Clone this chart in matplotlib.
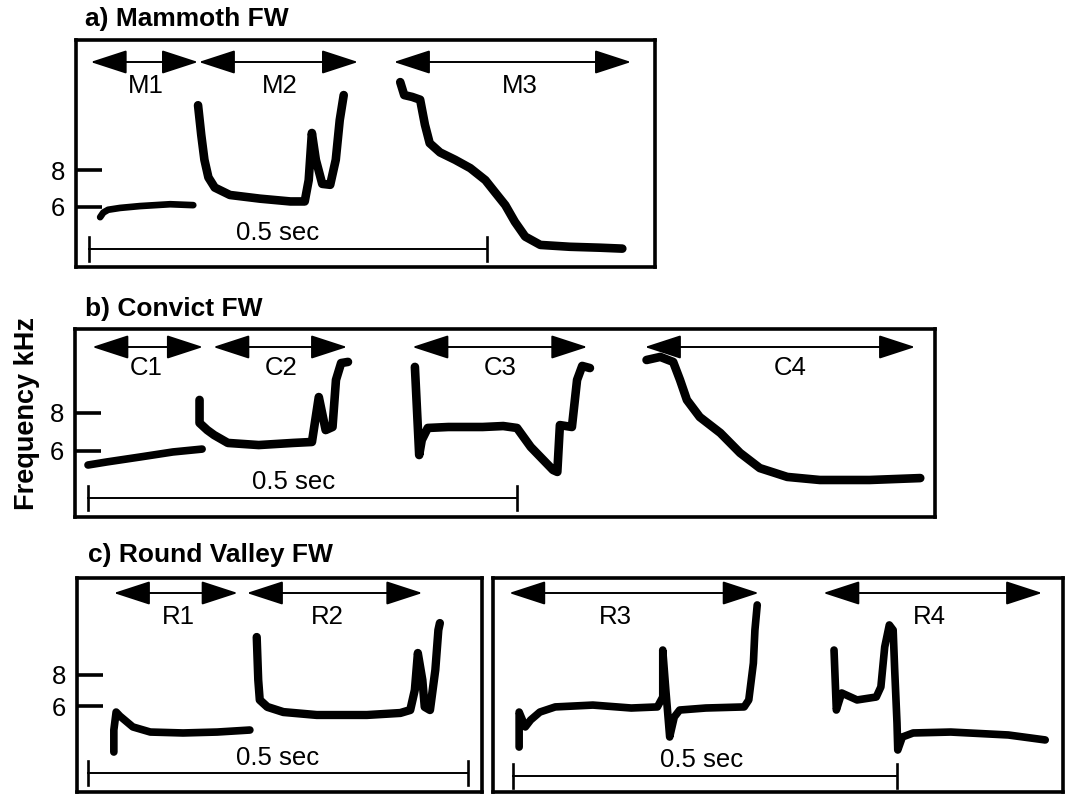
import matplotlib
matplotlib.use("Agg")
import matplotlib.pyplot as plt
from matplotlib.patches import FancyArrowPatch

plt.rcParams['font.family'] = ['Liberation Sans', 'DejaVu Sans']

W, H = 1071, 796

# ---------------- data (time in ms, frequency in kHz) ----------------
# a) Mammoth FW
M1_t = [14, 18, 24, 39, 64, 102, 131]
M1_f = [5.45, 5.7, 5.85, 5.95, 6.05, 6.15, 6.1]
M2_t = [137, 141, 145, 150, 158, 177, 215, 253, 271, 276, 280, 285, 293, 303, 310, 315, 320]
M2_f = [11.5, 9.9, 8.55, 7.6, 7.05, 6.65, 6.45, 6.3, 6.3, 7.45, 10.0, 8.55, 7.25, 7.2, 8.55, 10.7, 12.05]
M3_t = [391, 396, 406, 416, 422, 428, 441, 460, 479, 498, 510, 523, 535, 548, 567, 604, 642, 670]
M3_f = [12.75, 12.05, 11.95, 11.8, 10.45, 9.45, 8.95, 8.55, 8.1, 7.45, 6.8, 6.1, 5.2, 4.4, 3.95, 3.85, 3.8, 3.75]
M_seg = [(2, 137), (138, 338), (383, 681)]
M_names = ["M1", "M2", "M3"]

# b) Convict FW
C1_t = [0, 22, 61, 99, 133]
C1_f = [5.27, 5.43, 5.69, 5.95, 6.1]
C2_t = [130, 130, 139, 147, 163, 199, 239, 261, 269, 277, 285, 289, 295, 303]
C2_f = [8.66, 7.46, 7.09, 6.83, 6.42, 6.31, 6.42, 6.47, 8.81, 7.09, 7.25, 9.7, 10.58, 10.64]
C3_t = [381, 386, 389, 396, 420, 460, 484, 500, 516, 542, 547, 550, 564, 570, 576, 585]
C3_f = [10.38, 5.79, 6.57, 7.2, 7.25, 7.25, 7.3, 7.2, 6.21, 5.01, 4.91, 7.35, 7.25, 9.7, 10.43, 10.32]
C4_t = [651, 667, 682, 690, 698, 713, 737, 760, 783, 815, 853, 911, 970]
C4_f = [10.74, 10.9, 10.64, 9.7, 8.66, 7.77, 6.94, 5.9, 5.11, 4.65, 4.49, 4.49, 4.59]
C_seg = [(5, 134), (146, 302), (378, 582), (649, 964)]
C_names = ["C1", "C2", "C3", "C4"]

# c) Round Valley FW
R1_t = [34, 34, 37, 42, 59, 82, 125, 170, 213]
R1_f = [3.03, 4.45, 5.61, 5.35, 4.65, 4.32, 4.26, 4.32, 4.45]
R2_t = [222, 224, 226, 236, 257, 301, 367, 411, 424, 430, 434, 440, 443, 450, 457, 461, 463]
R2_f = [10.45, 7.68, 6.39, 5.94, 5.61, 5.42, 5.42, 5.55, 5.74, 7.03, 9.42, 7.68, 5.94, 5.74, 8.32, 10.9, 11.35]
R3_t = [8, 8, 16, 23, 35, 55, 104, 154, 188, 195, 195, 199, 204, 210, 217, 251, 301, 307, 313, 315, 318]
R3_f = [3.35, 5.61, 4.65, 5.1, 5.61, 5.94, 6.06, 5.87, 5.94, 6.58, 9.61, 7.03, 4.0, 5.29, 5.74, 5.87, 5.94, 6.39, 8.77, 10.9, 12.52]
R4_t = [418, 421, 428, 448, 473, 479, 484, 490, 495, 497, 500, 501, 507, 521, 570, 645, 693]
R4_f = [9.61, 5.74, 6.84, 6.39, 6.58, 7.23, 9.81, 11.23, 10.9, 8.32, 4.9, 3.16, 4.0, 4.26, 4.32, 4.13, 3.81]
RL_seg = [(34, 197), (209, 440)]
RL_names = ["R1", "R2"]
RR_seg = [(-5, 320), (404, 689)]
RR_names = ["R3", "R4"]

tick_vals = [6, 8]
tick_labels = ["6", "8"]
bar_len = 500
bar_text = "0.5 sec"

titles = ["a) Mammoth FW", "b) Convict FW", "c) Round Valley FW"]
ylabel = "Frequency kHz"

# ---------------- layout (pixels) ----------------
panels = [
    dict(box=(76, 40, 655, 267), x0=89, ppm=0.796, y6=207, ppk=18.5, ticks=True,
         traces=[(M1_t, M1_f, 4.8), (M2_t, M2_f, 6.2), (M3_t, M3_f, 6.2)],
         segs=M_seg, names=M_names, label_x=[146, 280, 520],
         arrow_y=62, label_y=86, bar_y=249, text_xy=(278, 233)),
    dict(box=(75, 329, 935, 517), x0=88, ppm=0.858, y6=451, ppk=19.2, ticks=True,
         traces=[(C1_t, C1_f, 5.5), (C2_t, C2_f, 6.2), (C3_t, C3_f, 6.2), (C4_t, C4_f, 6.2)],
         segs=C_seg, names=C_names, label_x=[146, 281, 500, 790],
         arrow_y=347, label_y=368, bar_y=498, text_xy=(294, 482)),
    dict(box=(77, 578, 482, 792), x0=88, ppm=0.760, y6=706, ppk=15.5, ticks=True,
         traces=[(R1_t, R1_f, 5.5), (R2_t, R2_f, 6.0)],
         segs=RL_seg, names=RL_names, label_x=[178, 327],
         arrow_y=593, label_y=617, bar_y=773, text_xy=(278, 758)),
    dict(box=(493, 578, 1063, 792), x0=513, ppm=0.768, y6=706, ppk=15.5, ticks=False,
         traces=[(R3_t, R3_f, 5.5), (R4_t, R4_f, 5.5)],
         segs=RR_seg, names=RR_names, label_x=[615, 929],
         arrow_y=593, label_y=617, bar_y=776, text_xy=(702, 760)),
]

fig = plt.figure(figsize=(W / 100, H / 100), dpi=100)
fig.patch.set_facecolor("white")

for p in panels:
    bx0, by0, bx1, by1 = p["box"]
    ax = fig.add_axes([bx0 / W, 1 - by1 / H, (bx1 - bx0) / W, (by1 - by0) / H])
    tx = lambda px, p=p: (px - p["x0"]) / p["ppm"]
    fy = lambda py, p=p: 6 + (p["y6"] - py) / p["ppk"]
    ax.set_xlim(tx(bx0), tx(bx1))
    ax.set_ylim(fy(by1), fy(by0))
    for s in ax.spines.values():
        s.set_linewidth(2.6)
        s.set_color("black")
    ax.set_xticks([])
    if p["ticks"]:
        ax.set_yticks(tick_vals)
        ax.set_yticklabels(tick_labels)
        ax.tick_params(axis="y", direction="in", length=19, width=2.6,
                       pad=8, labelsize=18.5)
    else:
        ax.set_yticks([])

    for t, f, lw in p["traces"]:
        ax.plot(t, f, color="black", lw=lw, solid_capstyle="round",
                solid_joinstyle="round", zorder=3)

    ya = fy(p["arrow_y"])
    for (s, e), name, lx in zip(p["segs"], p["names"], p["label_x"]):
        arr = FancyArrowPatch((s, ya), (e, ya),
                              arrowstyle="<|-|>,head_length=23,head_width=7.5",
                              mutation_scale=1, lw=1.4, color="black",
                              shrinkA=0, shrinkB=0)
        ax.add_patch(arr)
        ax.text(tx(lx), fy(p["label_y"]), name, ha="center", va="center",
                fontsize=18.5)

    yb = fy(p["bar_y"])
    ax.plot([0, bar_len], [yb, yb], color="black", lw=1.4)
    for xe in (0, bar_len):
        ax.plot([xe, xe], [fy(p["bar_y"] - 12), fy(p["bar_y"] + 12)],
                color="black", lw=1.9)
    ax.text(tx(p["text_xy"][0]), fy(p["text_xy"][1]), bar_text,
            ha="center", va="center", fontsize=18.5)

fig.text(85 / W, 1 - 26 / H, titles[0], fontsize=19, fontweight="bold", va="baseline")
fig.text(85 / W, 1 - 316 / H, titles[1], fontsize=19, fontweight="bold", va="baseline")
fig.text(88 / W, 1 - 562 / H, titles[2], fontsize=19, fontweight="bold", va="baseline")
fig.text(27 / W, 1 - 414 / H, ylabel, fontsize=19.5, fontweight="bold",
         rotation=90, ha="center", va="center")

fig.savefig("out.png", dpi=100, facecolor="white")
